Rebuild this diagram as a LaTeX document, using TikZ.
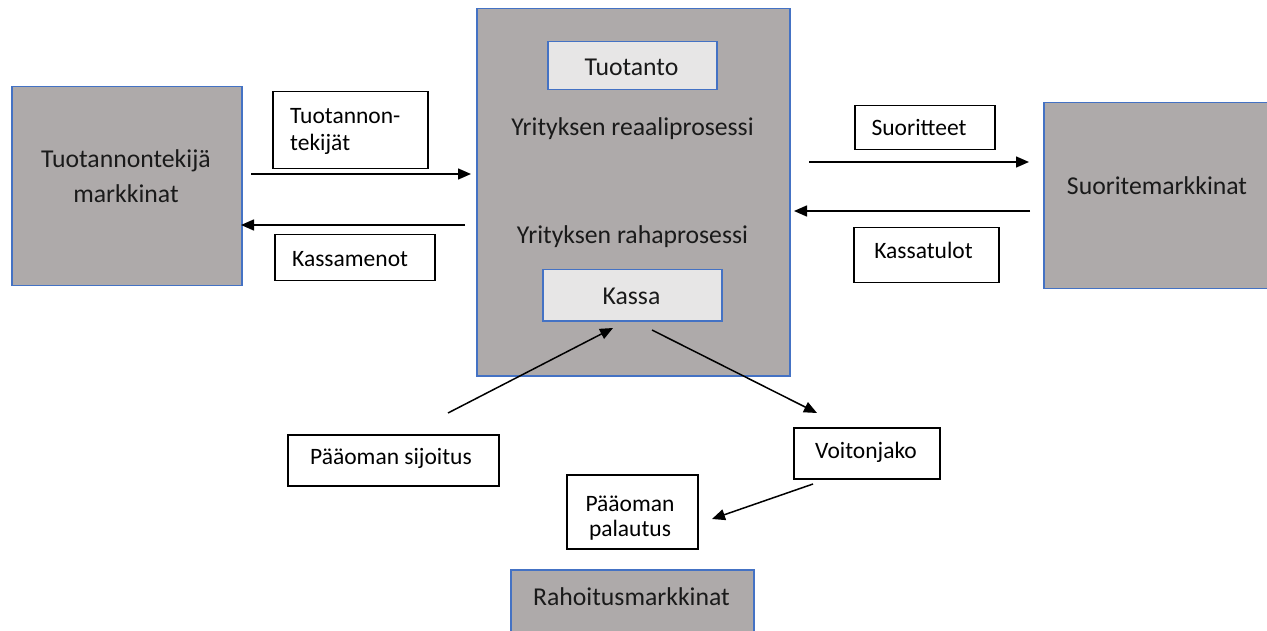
\documentclass[tikz,border=0pt]{standalone}
\usepackage{fontspec}
\setmainfont{Carlito}
\usetikzlibrary{arrows.meta}
\definecolor{boxgray}{HTML}{AEAAAA}
\definecolor{boxblue}{HTML}{4472C4}
\definecolor{innergray}{HTML}{E7E6E6}
\definecolor{txt}{HTML}{1A1A1A}
\tikzset{
  bigbox/.style={draw=boxblue, line width=1.5pt, fill=boxgray, inner sep=0pt, anchor=north west},
  innerbox/.style={draw=boxblue, line width=1.5pt, fill=innergray, inner sep=0pt, anchor=north west},
  labelbox/.style={draw=black, line width=1.5pt, fill=white, inner sep=0pt, anchor=north west},
  maintext/.style={font=\fontsize{25.7}{35}\selectfont, text=txt, inner sep=0pt, align=center},
  labeltext/.style={font=\fontsize{23.5}{27}\selectfont, text=black, inner sep=0pt},
  flow/.style={line width=1.5pt, -{Triangle[length=13pt,width=11pt]}}
}
\begin{document}
\begin{tikzpicture}[x=1pt,y=-1pt]
\useasboundingbox (0,0) rectangle (1267,631);
\clip (0,0) rectangle (1267,631);
% big boxes
\node[bigbox, minimum width=230pt, minimum height=199pt] (left) at (11,86) {};
\node[bigbox, minimum width=313pt, minimum height=367pt] (center) at (476,8) {};
\node[bigbox, minimum width=240pt, minimum height=186pt] (right) at (1043,102) {};
\node[bigbox, minimum width=243pt, minimum height=80pt] (rahoitus) at (510,569) {};
% inner boxes
\node[innerbox, minimum width=169pt, minimum height=48pt] (tuotanto) at (547,41) {};
\node[innerbox, minimum width=179pt, minimum height=51pt] (kassa) at (542,269) {};
% label boxes
\node[labelbox, minimum width=155pt, minimum height=77pt] (tekbox) at (272,91) {};
\node[labelbox, minimum width=160pt, minimum height=46pt] (menobox) at (274,234) {};
\node[labelbox, minimum width=140pt, minimum height=44pt] (suorbox) at (854,105) {};
\node[labelbox, minimum width=145pt, minimum height=55pt] (tulobox) at (853,227) {};
\node[labelbox, minimum width=211pt, minimum height=51pt] (sijbox) at (287,434) {};
\node[labelbox, minimum width=146pt, minimum height=51pt] (voitbox) at (793,427) {};
\node[labelbox, minimum width=131pt, minimum height=74pt] (palbox) at (566,474) {};
% texts
\node[maintext] (lefttext) at (126,176) {Tuotannontekijä\\markkinat};
\node[maintext] (righttext) at (1157,186) {Suoritemarkkinat};
\node[maintext] (rahoitustext) at (631.5,597) {Rahoitusmarkkinat};
\node[maintext] (tuotantotext) at (631.5,67) {Tuotanto};
\node[maintext] (kassatext) at (631.5,296) {Kassa};
\node[maintext] (reaali) at (632.5,129) {Yrityksen reaaliprosessi};
\node[maintext] (raha) at (632.5,237) {Yrityksen rahaprosessi};
\node[labeltext, anchor=west, align=left] (tektext) at (290,131) {Tuotannon-\\tekijät};
\node[labeltext, anchor=west] (menotext) at (292,259) {Kassamenot};
\node[labeltext] (suortext) at (919,128) {Suoritteet};
\node[labeltext] (tulotext) at (923.5,250) {Kassatulot};
\node[labeltext] (sijtext) at (391,458) {Pääoman sijoitus};
\node[labeltext] (voittext) at (866,452) {Voitonjako};
\node[labeltext, align=center, font=\fontsize{23.5}{24.5}\selectfont] (paltext) at (630,518) {Pääoman\\palautus};
% connector end points
\coordinate (a1s) at (251,174); \coordinate (a1e) at (471,174);
\coordinate (a2s) at (465,225); \coordinate (a2e) at (241,225);
\coordinate (a3s) at (809,162); \coordinate (a3e) at (1029,162);
\coordinate (a4s) at (1030,211); \coordinate (a4e) at (794,211);
\coordinate (a5s) at (448,413); \coordinate (a5e) at (613,328);
\coordinate (a6s) at (652,330); \coordinate (a6e) at (817,413);
\coordinate (a7s) at (813,484); \coordinate (a7e) at (712,519);
\draw[flow] (a1s) -- (a1e);
\draw[flow] (a2s) -- (a2e);
\draw[flow] (a3s) -- (a3e);
\draw[flow] (a4s) -- (a4e);
\draw[flow] (a5s) -- (a5e);
\draw[flow] (a6s) -- (a6e);
\draw[flow] (a7s) -- (a7e);
\end{tikzpicture}
\end{document}
